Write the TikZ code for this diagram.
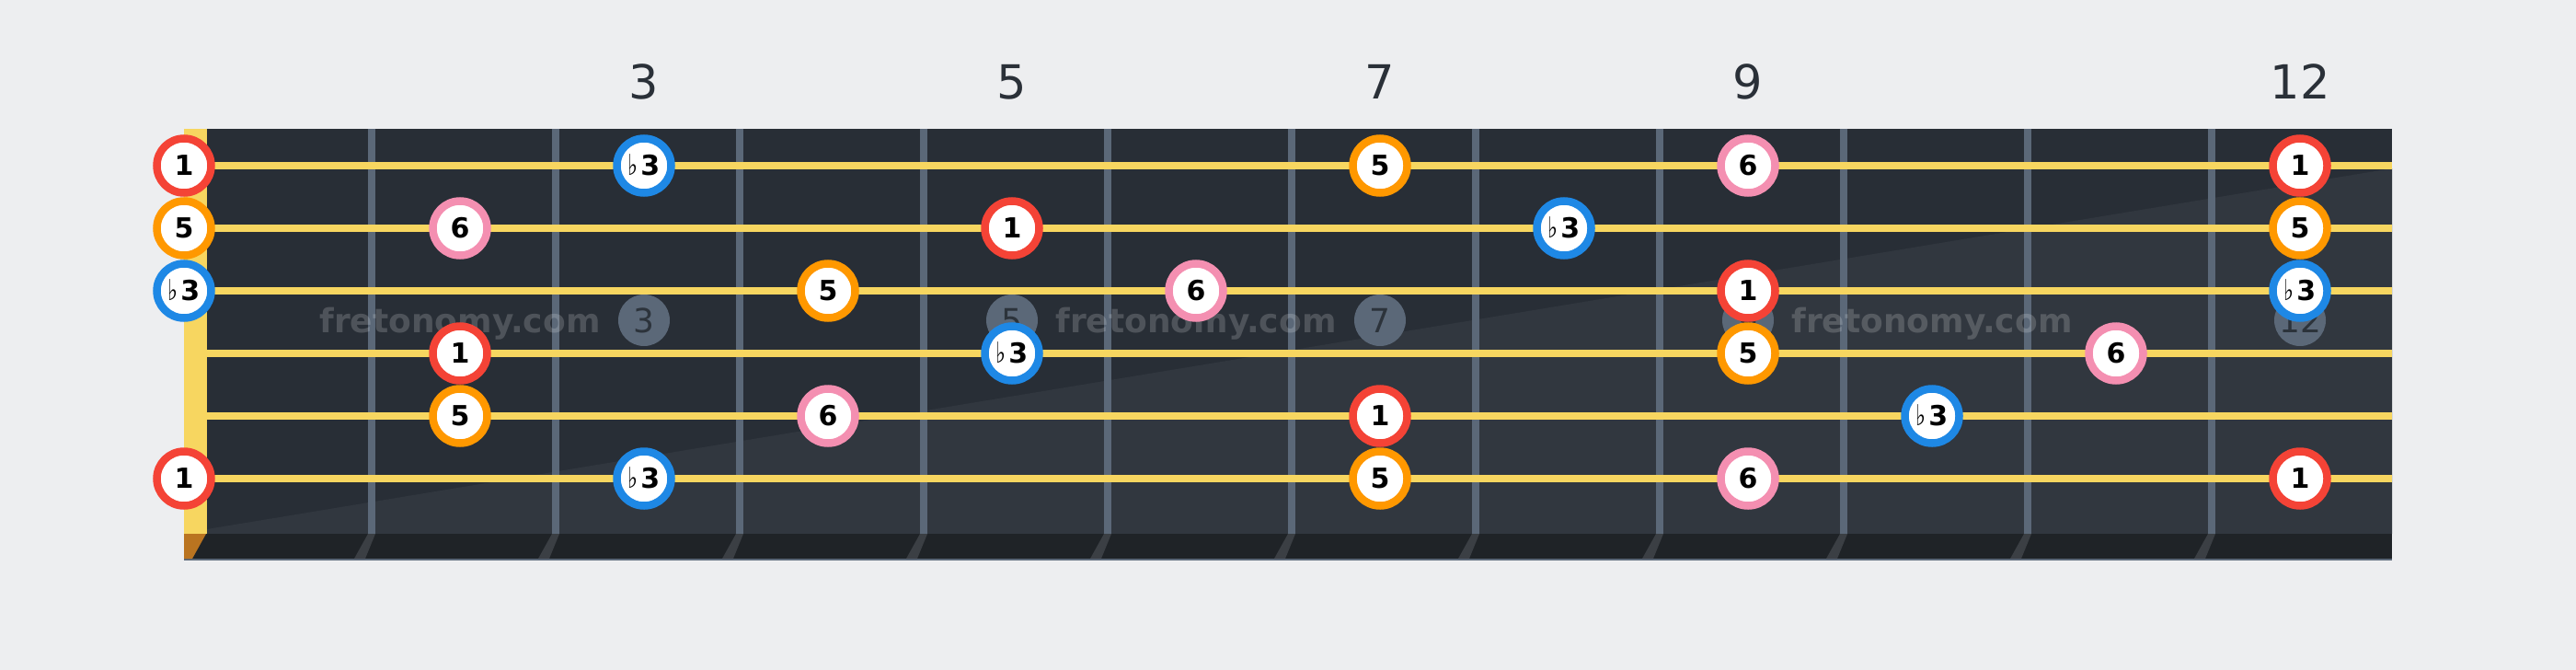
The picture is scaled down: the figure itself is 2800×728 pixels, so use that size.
\documentclass[tikz,border=0pt]{standalone}
\usepackage{fontspec}
\usepackage{graphicx}
\setmainfont{DejaVu Sans}
\definecolor{bgc}{HTML}{EDEEF0}
\definecolor{boardA}{HTML}{282E36}
\definecolor{boardB}{HTML}{31373F}
\definecolor{stripc}{HTML}{1F2327}
\definecolor{fretc}{HTML}{5B6878}
\definecolor{strc}{HTML}{F7D660}
\definecolor{nutlow}{HTML}{BA7420}
\definecolor{shadc}{HTML}{3B3F44}
\definecolor{numc}{HTML}{2A3038}
\definecolor{inlaytxt}{HTML}{2C333B}
\definecolor{cr}{HTML}{F44336}
\definecolor{co}{HTML}{FF9800}
\definecolor{cb}{HTML}{1E88E5}
\definecolor{cp}{HTML}{F48FB1}
\newsavebox\myflbox
\newcommand\fl{\sbox\myflbox{\mdseries ♭}\resizebox*{11pt}{23pt}{\raisebox{\dp\myflbox}{\usebox\myflbox}}\kern2.5pt}
\tikzset{
  note/.style={circle, fill=white, draw=#1, line width=8.5pt, minimum size=59pt, inner sep=0pt,
    font=\fontsize{30}{30}\selectfont\bfseries, text height=21.9pt, text depth=0pt},
  fretline/.style={fretc, line width=8pt},
  stringline/.style={strc, line width=8pt},
  shadow/.style={shadc},
  inlay/.style={circle, fill=fretc, minimum size=56pt, inner sep=0pt, text=inlaytxt,
    font=\fontsize{36}{36}\selectfont, text height=26.2pt, text depth=0pt},
  wm/.style={text=white, text opacity=0.18, font=\fontsize{36}{36}\selectfont\bfseries, anchor=base, inner sep=0pt},
  fretnum/.style={text=numc, font=\fontsize{51}{51}\selectfont, text height=37.2pt, text depth=0pt, inner sep=0pt}
}
\begin{document}
\begin{tikzpicture}[x=1pt,y=-1pt]
\useasboundingbox (0,0) rectangle (2800,728);
\fill[bgc] (0,0) rectangle (2800,728);
% board
\fill[boardA] (200,140) rectangle (2600,580);
\fill[boardB] (225,580) -- (2600,580) -- (2600,183) -- (225,575) -- cycle;
% frets
\foreach \k in {1,...,11} {
  \pgfmathsetmacro\fx{204+200*\k}
  \draw[fretline] (\fx,140) -- (\fx,580);
}
% bottom strip
\fill[stripc] (200,580) rectangle (2600,608);
\draw[fretc, line width=2pt] (200,608) -- (2600,608);
\foreach \k in {1,...,11} {
  \pgfmathsetmacro\fx{204+200*\k}
  \fill[shadow] (\fx-4,580) -- (\fx+4,580) -- (\fx-7,607) -- (\fx-19,607) -- cycle;
}
% nut
\fill[strc] (200,140) rectangle (225,580);
\fill[nutlow] (200,580) -- (224,580) -- (209,607) -- (200,607) -- cycle;
% strings
\foreach \y in {180,248,316,384,452,520} {
  \draw[stringline] (225,\y) -- (2600,\y);
}
% watermarks
\node[wm] (w1) at (500,361) {fretonomy.com};
\node[wm] (w2) at (1300,361) {fretonomy.com};
\node[wm] (w3) at (2100,361) {fretonomy.com};
% inlays
\node[inlay] (m3) at (700,348) {3};
\node[inlay] (m5) at (1100,348) {5};
\node[inlay] (m7) at (1500,348) {7};
\node[inlay] (m9) at (1900,348) {9};
\node[inlay] (m12) at (2500,348) {12};
% fret numbers
\node[fretnum] (n3) at (700,89) {3};
\node[fretnum] (n5) at (1100,89) {5};
\node[fretnum] (n7) at (1500,89) {7};
\node[fretnum] (n9) at (1900,89) {9};
\node[fretnum] (n12) at (2500,89) {12};
% notes
\foreach \nm/\x/\y/\c/\t in {
  a0/200/180/cr/1, a3/700/180/cb/\fl3, a7/1500/180/co/5, a9/1900/180/cp/6, a12/2500/180/cr/1,
  b0/200/248/co/5, b2/500/248/cp/6, b5/1100/248/cr/1, b8/1700/248/cb/\fl3, b12/2500/248/co/5,
  c0/200/316/cb/\fl3, c4/900/316/co/5, c6/1300/316/cp/6, c9/1900/316/cr/1, c12/2500/316/cb/\fl3,
  d2/500/384/cr/1, d5/1100/384/cb/\fl3, d9/1900/384/co/5, d11/2300/384/cp/6,
  e2/500/452/co/5, e4/900/452/cp/6, e7/1500/452/cr/1, e10/2100/452/cb/\fl3,
  f0/200/520/cr/1, f3/700/520/cb/\fl3, f7/1500/520/co/5, f9/1900/520/cp/6, f12/2500/520/cr/1} {
  \node[note=\c] (\nm) at (\x,\y) {\t};
}
\end{tikzpicture}
\end{document}
